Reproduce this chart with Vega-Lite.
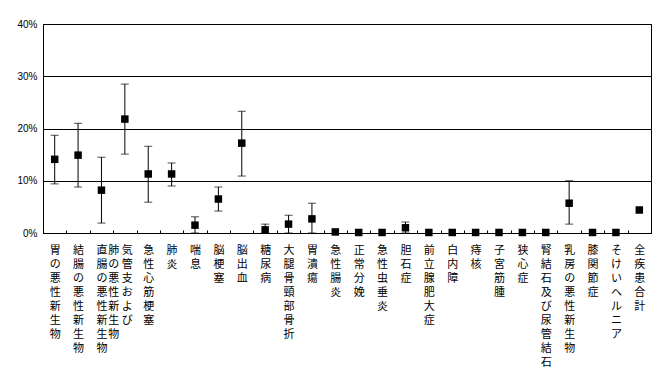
{
  "$schema": "https://vega.github.io/schema/vega-lite/v6.json",
  "autosize": "none",
  "width": 608,
  "height": 209,
  "padding": {"left": 43, "top": 24, "right": 15, "bottom": 151},
  "background": "white",
  "config": {
    "view": {"stroke": "black", "strokeWidth": 1},
    "axis": {"domainColor": "black", "labelColor": "black", "title": null}
  },
  "data": {
    "values": [
      {"name": "胃の悪性新生物", "val": 14.1, "lo": 9.4, "hi": 18.7},
      {"name": "結腸の悪性新生物", "val": 14.9, "lo": 8.8, "hi": 21.0},
      {"name": "直腸の悪性新生物", "val": 8.2, "lo": 1.9, "hi": 14.5},
      {"name": "気管支および肺の悪性新生物", "val": 21.8, "lo": 15.1, "hi": 28.5},
      {"name": "急性心筋梗塞", "val": 11.3, "lo": 5.9, "hi": 16.6},
      {"name": "肺炎", "val": 11.3, "lo": 9.0, "hi": 13.4},
      {"name": "喘息", "val": 1.5, "lo": 0.0, "hi": 3.1},
      {"name": "脳梗塞", "val": 6.5, "lo": 4.2, "hi": 8.8},
      {"name": "脳出血", "val": 17.2, "lo": 10.9, "hi": 23.3},
      {"name": "糖尿病", "val": 0.6, "lo": 0.0, "hi": 1.7},
      {"name": "大腿骨頸部骨折", "val": 1.7, "lo": 0.0, "hi": 3.4},
      {"name": "胃潰瘍", "val": 2.7, "lo": 0.0, "hi": 5.7},
      {"name": "急性腸炎", "val": 0.2, "lo": null, "hi": null},
      {"name": "正常分娩", "val": 0.1, "lo": null, "hi": null},
      {"name": "急性虫垂炎", "val": 0.1, "lo": null, "hi": null},
      {"name": "胆石症", "val": 1.0, "lo": 0.0, "hi": 2.1},
      {"name": "前立腺肥大症", "val": 0.1, "lo": null, "hi": null},
      {"name": "白内障", "val": 0.1, "lo": null, "hi": null},
      {"name": "痔核", "val": 0.1, "lo": null, "hi": null},
      {"name": "子宮筋腫", "val": 0.1, "lo": null, "hi": null},
      {"name": "狭心症", "val": 0.1, "lo": null, "hi": null},
      {"name": "腎結石及び尿管結石", "val": 0.1, "lo": null, "hi": null},
      {"name": "乳房の悪性新生物", "val": 5.7, "lo": 1.7, "hi": 10.0},
      {"name": "膝関節症", "val": 0.1, "lo": null, "hi": null},
      {"name": "そけいヘルニア", "val": 0.1, "lo": null, "hi": null},
      {"name": "全疾患合計", "val": 4.4, "lo": null, "hi": null}
    ]
  },
  "encoding": {
    "x": {
      "field": "name",
      "type": "nominal",
      "sort": null,
      "scale": {
        "paddingInner": 0,
        "paddingOuter": 0,
        "domain": ["胃の悪性新生物", "結腸の悪性新生物", "直腸の悪性新生物", "気管支および肺の悪性新生物", "急性心筋梗塞", "肺炎", "喘息", "脳梗塞", "脳出血", "糖尿病", "大腿骨頸部骨折", "胃潰瘍", "急性腸炎", "正常分娩", "急性虫垂炎", "胆石症", "前立腺肥大症", "白内障", "痔核", "子宮筋腫", "狭心症", "腎結石及び尿管結石", "乳房の悪性新生物", "膝関節症", "そけいヘルニア", "全疾患合計"]
      },
      "axis": {
        "labelAngle": 0,
        "labelAlign": {"condition": {"test": "datum.label == '気管支および肺の悪性新生物'", "value": "left"}, "value": "center"},
        "labelBaseline": "top",
        "labelFont": "Noto Sans CJK JP",
        "labelFontSize": 11,
        "labelLineHeight": 14,
        "labelOverlap": false,
        "labelPadding": 14,
        "labelOffset": {"condition": {"test": "datum.label == '気管支および肺の悪性新生物'", "value": -17}, "value": 0},
        "tickBand": "extent",
        "tickSize": -3,
        "tickColor": "black",
        "labelExpr": "datum.label == '気管支および肺の悪性新生物' ? ['肺 気', 'の 管', '悪 支', '性 お', '新 よ', '生 び', '物'] : split(datum.label, '')"
      }
    }
  },
  "layer": [
    {
      "mark": {"type": "rule", "color": "black", "strokeWidth": 1},
      "encoding": {
        "y": {"field": "lo", "type": "quantitative", "scale": {"domain": [0, 40], "nice": false},
          "axis": {
            "values": [0, 10, 20, 30, 40],
            "labelExpr": "datum.value + '%'",
            "labelFont": "Liberation Sans",
            "labelFontSize": 10,
            "labelPadding": 6,
            "ticks": false,
            "grid": true,
            "gridColor": "black",
            "gridOpacity": 1,
            "gridWidth": 1
          }},
        "y2": {"field": "hi"}
      }
    },
    {
      "mark": {"type": "tick", "color": "black", "size": 8, "thickness": 1},
      "encoding": {"y": {"field": "hi", "type": "quantitative"}}
    },
    {
      "mark": {"type": "tick", "color": "black", "size": 8, "thickness": 1},
      "encoding": {"y": {"field": "lo", "type": "quantitative"}}
    },
    {
      "mark": {"type": "point", "shape": "square", "filled": true, "color": "black", "opacity": 1, "size": 56},
      "encoding": {"y": {"field": "val", "type": "quantitative"}}
    }
  ]
}
